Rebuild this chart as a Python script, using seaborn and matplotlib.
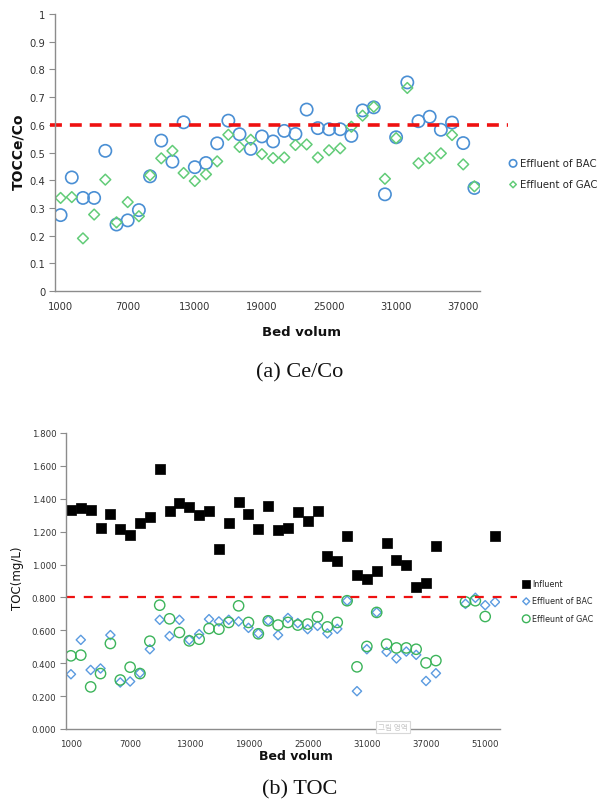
import numpy as np
import matplotlib
matplotlib.use('Agg')
import matplotlib.pyplot as plt
import seaborn as sns

# --- Data: (a) Ce/Co ratio, one point per 1000 bed volumes ---
bed_a = [str(v) for v in range(1000, 39000, 1000)]
ratio_bac = [0.274, 0.41, 0.336, 0.336, 0.506, 0.24, 0.255, 0.292, 0.414, 0.543,
             0.467, 0.609, 0.447, 0.462, 0.533, 0.615, 0.566, 0.513, 0.558, 0.54,
             0.578, 0.567, 0.655, 0.588, 0.584, 0.584, 0.56, 0.652, 0.663, 0.349,
             0.555, 0.753, 0.613, 0.629, 0.582, 0.608, 0.534, 0.372]
ratio_gac = [0.336, 0.339, 0.19, 0.276, 0.402, 0.248, 0.321, 0.27, 0.418, 0.479,
             0.506, 0.426, 0.397, 0.421, 0.468, 0.564, 0.52, 0.546, 0.494, 0.48,
             0.482, 0.527, 0.529, 0.482, 0.508, 0.515, 0.593, 0.633, 0.665, 0.405,
             0.552, 0.733, 0.461, 0.48, 0.497, 0.563, 0.457, 0.378]
ratio_limit = 0.6

# --- Data: (b) TOC (mg/L) ---
bed_b = [str(v) for v in range(1000, 39000, 1000)] + \
        ['47000', '48000', '49000', '50000', '51000', '52000']
nan = np.nan
toc_inf = [1.332, 1.342, 1.332, 1.222, 1.306, 1.214, 1.18, 1.253, 1.289, 1.58,
           1.326, 1.376, 1.352, 1.301, 1.328, 1.094, 1.253, 1.383, 1.309, 1.218,
           1.354, 1.208, 1.22, 1.318, 1.263, 1.328, 1.05, 1.023, 1.175, 0.938,
           0.91, 0.962, 1.129, 1.029, 0.999, 0.861, 0.886, 1.111,
           nan, nan, nan, nan, nan, 1.172]
toc_bac = [0.333, 0.542, 0.359, 0.368, 0.571, 0.283, 0.289, 0.341, 0.485, 0.664,
           0.565, 0.664, 0.542, 0.577, 0.668, 0.654, 0.664, 0.654, 0.615, 0.581,
           0.66, 0.571, 0.675, 0.644, 0.607, 0.627, 0.581, 0.609, 0.78, 0.23,
           0.485, 0.709, 0.469, 0.429, 0.471, 0.451, 0.292, 0.339,
           nan, nan, 0.761, 0.798, 0.753, 0.772]
toc_gac = [0.445, 0.449, 0.256, 0.337, 0.52, 0.298, 0.376, 0.337, 0.534, 0.753,
           0.67, 0.587, 0.536, 0.546, 0.611, 0.607, 0.648, 0.749, 0.648, 0.579,
           0.658, 0.632, 0.648, 0.632, 0.638, 0.682, 0.621, 0.648, 0.78, 0.378,
           0.502, 0.709, 0.516, 0.493, 0.493, 0.485, 0.402, 0.416,
           nan, nan, 0.773, 0.78, 0.684, nan]
toc_limit = 0.8

sns.set_theme(style='white')
plt.rcParams['font.family'] = ['DejaVu Sans', 'Noto Sans CJK KR']

fig = plt.figure(figsize=(6.0, 8.03), dpi=100)
W, H = 600, 803


def px_axes(left, right, top, bottom):
    return fig.add_axes([left / W, 1 - bottom / H, (right - left) / W, (bottom - top) / H])


def style_axes(ax, size):
    for side in ['top', 'right']:
        ax.spines[side].set_visible(False)
    for side in ['left', 'bottom']:
        ax.spines[side].set_color('#8c8c8c')
        ax.spines[side].set_linewidth(1.0)
    ax.tick_params(axis='y', left=True, length=4, width=0.8, color='#8c8c8c',
                   labelsize=size, labelcolor='#333333', pad=3)
    ax.tick_params(axis='x', bottom=False, length=0, labelsize=size,
                   labelcolor='#333333', pad=7)
    ax.set_xlabel('')
    ax.set_ylabel('')
    ax.grid(False)


# ---------- (a) Ce/Co ----------
ax1 = px_axes(55, 480, 15, 292)
xa = np.arange(len(bed_a))
sns.scatterplot(x=xa, y=ratio_bac, marker='o', s=78, facecolor='none',
                edgecolor='#4a8fd4', linewidth=1.2, ax=ax1, label='Effluent of BAC')
sns.scatterplot(x=xa, y=ratio_gac, marker='D', s=30, facecolor='none',
                edgecolor='#62cc78', linewidth=1.1, ax=ax1, label='Effluent of GAC')
ax1.plot([-0.012, 1.066], [ratio_limit, ratio_limit], color='#ee1111', lw=2.6,
         linestyle=(0, (3.3, 2.2)), transform=ax1.get_yaxis_transform(), clip_on=False)
ax1.set_xlim(-0.5, len(bed_a) - 0.5)
ax1.set_ylim(0, 1)
ax1.set_yticks(np.arange(0, 1.01, 0.1))
ax1.set_yticklabels(['0', '0.1', '0.2', '0.3', '0.4', '0.5', '0.6', '0.7', '0.8', '0.9', '1'])
ax1.set_xticks(xa[::6])
ax1.set_xticklabels(bed_a[::6])
style_axes(ax1, 7.2)
ax1.legend(loc='upper left', bbox_to_anchor=(509 / W, 1 - 159 / H),
           bbox_transform=fig.transFigure, frameon=False, fontsize=7.3,
           markerscale=0.6, handlelength=0.8, handletextpad=0.3,
           labelspacing=1.1, borderpad=0, borderaxespad=0)
fig.text(18 / W, 1 - 152 / H, 'TOCCe/Co', rotation=90, ha='center', va='center',
         fontsize=10, fontweight='bold', color='#111111')
fig.text(301 / W, 1 - 333 / H, 'Bed volum', ha='center', va='center',
         fontsize=9.5, fontweight='bold', color='#111111')
fig.text(300 / W, 1 - 373 / H, '(a) Ce/Co', ha='center', va='center',
         fontsize=16, family='Liberation Serif', color='#111111')

# ---------- (b) TOC ----------
ax2 = px_axes(66, 500, 434, 730)
xb = np.arange(len(bed_b))
sns.scatterplot(x=xb, y=toc_inf, marker='s', s=55, color='black', edgecolor='black',
                linewidth=0.5, ax=ax2, label='Influent')
sns.scatterplot(x=xb, y=toc_bac, marker='D', s=22, facecolor='none',
                edgecolor='#5b9be0', linewidth=1.0, ax=ax2, label='Effluent of BAC')
sns.scatterplot(x=xb, y=toc_gac, marker='o', s=55, facecolor='none',
                edgecolor='#3cb45a', linewidth=1.0, ax=ax2, label='Effleunt of GAC')
ax2.plot([0, 1.039], [toc_limit, toc_limit], color='#ee1111', lw=1.6,
         linestyle=(0, (4, 4)), transform=ax2.get_yaxis_transform(), clip_on=False)
ax2.set_xlim(-0.5, len(bed_b) - 0.5)
ax2.set_ylim(0, 1.8)
yt = np.arange(0, 1.81, 0.2)
ax2.set_yticks(yt)
ax2.set_yticklabels([f'{v:.3f}' for v in yt])
ax2.set_xticks(xb[::6])
ax2.set_xticklabels(bed_b[::6])
style_axes(ax2, 6.2)
ax2.legend(loc='upper left', bbox_to_anchor=(523 / W, 1 - 580 / H),
           bbox_transform=fig.transFigure, frameon=False, fontsize=5.8,
           markerscale=0.75, handlelength=0.8, handletextpad=0.35,
           labelspacing=1.05, borderpad=0, borderaxespad=0)
fig.text(17 / W, 1 - 578 / H, 'TOC(mg/L)', rotation=90, ha='center', va='center',
         fontsize=8.5, color='#111111')
fig.text(296 / W, 1 - 757 / H, 'Bed volum', ha='center', va='center',
         fontsize=9, fontweight='bold', color='#111111')
fig.text(300 / W, 1 - 790 / H, '(b) TOC', ha='center', va='center',
         fontsize=16, family='Liberation Serif', color='#111111')
# leftover "plot area" tooltip from the source spreadsheet
fig.text(393 / W, 1 - 728 / H, '그림 영역', ha='center', va='center', fontsize=5.5,
         family=['Noto Sans CJK KR', 'DejaVu Sans'], color='#c8c8c8',
         bbox=dict(boxstyle='square,pad=0.3', fc='white', ec='#d8d8d8', lw=0.8))

fig.savefig('out.png', dpi=100)
